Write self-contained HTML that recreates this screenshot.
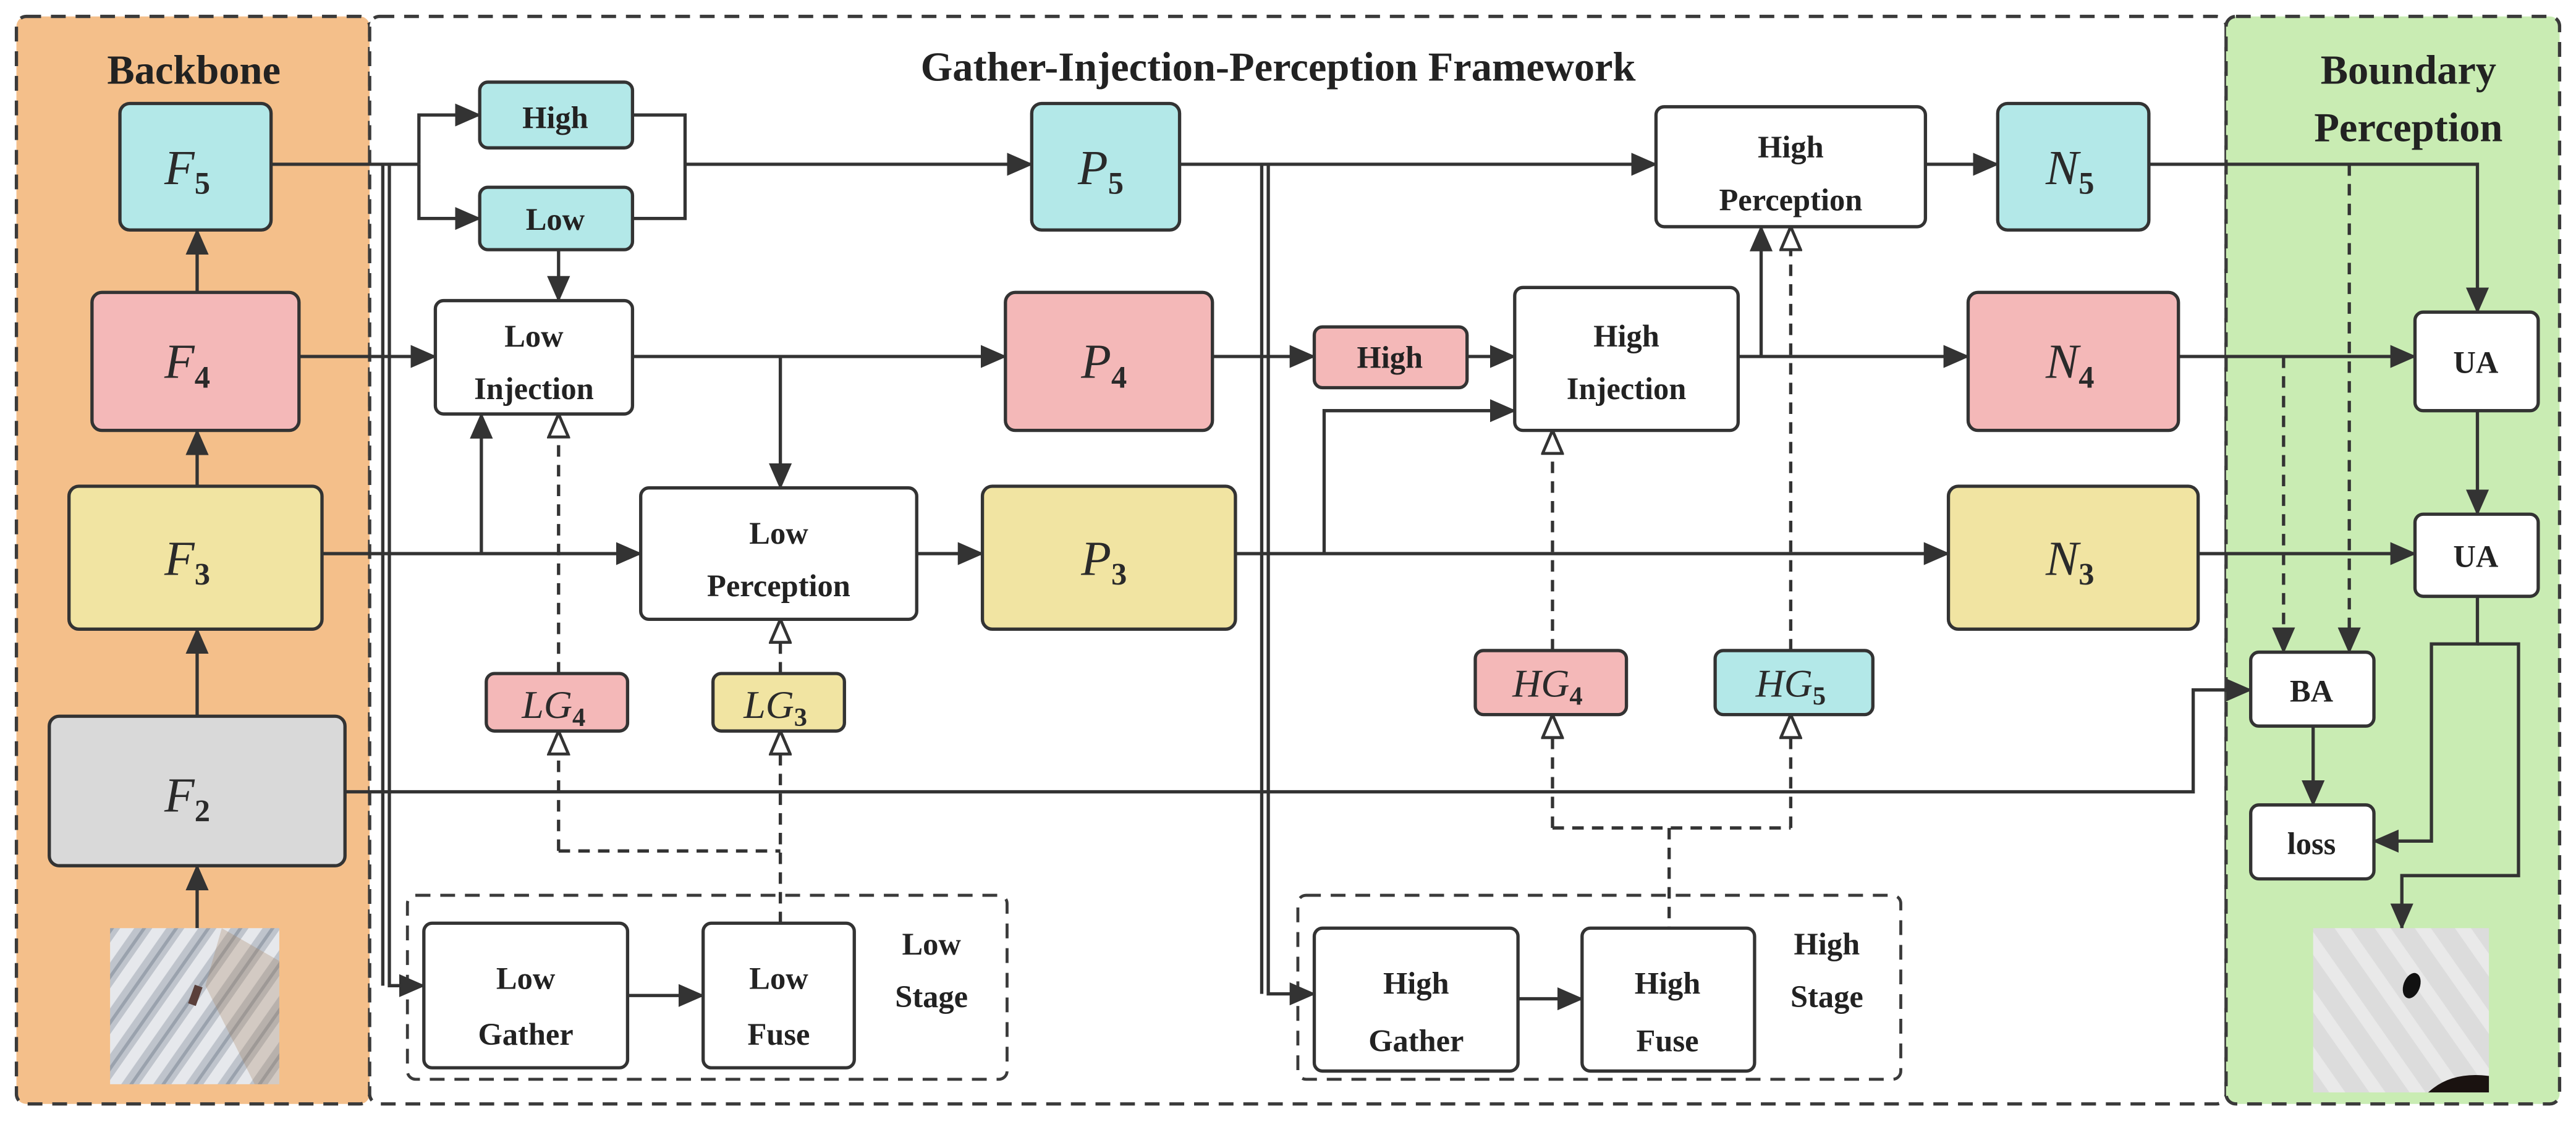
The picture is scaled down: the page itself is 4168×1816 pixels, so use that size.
<!DOCTYPE html>
<html><head><meta charset="utf-8"><style>
html,body{margin:0;padding:0;background:#fff}
svg{display:block}
.t{font-family:"Liberation Serif",serif;font-weight:bold;fill:#222;text-anchor:middle}
.m{font-family:"Liberation Serif",serif;font-style:italic;fill:#2a2a2a;text-anchor:middle}
.s{font-style:normal;font-weight:bold}
</style></head><body>
<svg width="4168" height="1816" viewBox="0 0 1568 683" preserveAspectRatio="none" xmlns="http://www.w3.org/2000/svg">
<defs>
<marker id="a" markerUnits="userSpaceOnUse" markerWidth="16" markerHeight="14" refX="15" refY="7" orient="auto"><path d="M0,0 L16,7 L0,14 Z" fill="#333"/></marker>
<marker id="h" markerUnits="userSpaceOnUse" markerWidth="16" markerHeight="14" refX="15" refY="7" orient="auto"><path d="M1,1 L15,7 L1,13 Z" fill="#fff" stroke="#333" stroke-width="1.8"/></marker>
<pattern id="st" width="16" height="16" patternUnits="userSpaceOnUse" patternTransform="rotate(35)"><rect width="16" height="16" fill="#bfc4cc"/><rect width="7" height="16" fill="#e6e8ec"/><rect x="11" width="2" height="16" fill="#9aa2ad"/></pattern>
<pattern id="st2" width="20" height="20" patternUnits="userSpaceOnUse" patternTransform="rotate(-35)"><rect width="20" height="20" fill="#dcdcdc"/><rect width="8" height="20" fill="#e9e9e9"/></pattern>
</defs>
<rect x="10" y="10" width="215" height="662" rx="6" fill="#f4bf8a" stroke="#3a3a3a" stroke-width="2" stroke-dasharray="9,6"/>
<rect x="225" y="10" width="1130" height="662" rx="6" fill="#fff" stroke="#3a3a3a" stroke-width="2" stroke-dasharray="9,6"/>
<rect x="1355" y="10" width="203" height="662" rx="6" fill="#c9ecb3" stroke="#3a3a3a" stroke-width="2" stroke-dasharray="9,6"/>
<text class="t" x="118" y="51" font-size="25">Backbone</text>
<text class="t" x="778" y="49" font-size="25">Gather-Injection-Perception Framework</text>
<text class="t" x="1466" y="51" font-size="25">Boundary</text>
<text class="t" x="1466" y="86" font-size="25">Perception</text>
<rect x="248" y="545" width="365" height="112" rx="5" fill="none" stroke="#3a3a3a" stroke-width="1.8" stroke-dasharray="9,6"/>
<rect x="790" y="545" width="367" height="112" rx="5" fill="none" stroke="#3a3a3a" stroke-width="1.8" stroke-dasharray="9,6"/>
<g fill="none" stroke="#333" stroke-width="2">
<path d="M120 565V527" marker-end="url(#a)"/><path d="M120 436V383" marker-end="url(#a)"/>
<path d="M120 296V262" marker-end="url(#a)"/><path d="M120 178V140" marker-end="url(#a)"/>
<path d="M165 100H255"/><path d="M255 100V70H292" marker-end="url(#a)"/><path d="M255 100V133H292" marker-end="url(#a)"/>
<path d="M385 70H417V133H385"/><path d="M417 100H628" marker-end="url(#a)"/>
<path d="M233 100V600M237 100V600H258" marker-end="url(#a)"/>
<path d="M340 152V183" marker-end="url(#a)"/>
<path d="M182 217H265" marker-end="url(#a)"/>
<path d="M385 217H612" marker-end="url(#a)"/>
<path d="M475 217V297" marker-end="url(#a)"/>
<path d="M196 337H390" marker-end="url(#a)"/>
<path d="M293 337V252" marker-end="url(#a)"/>
<path d="M558 337H598" marker-end="url(#a)"/>
<path d="M382 606H428" marker-end="url(#a)"/>
<path d="M718 100H1008" marker-end="url(#a)"/>
<path d="M768 100V605M772 100V605H800" marker-end="url(#a)"/>
<path d="M924 608H963" marker-end="url(#a)"/>
<path d="M738 217H800" marker-end="url(#a)"/>
<path d="M893 217H922" marker-end="url(#a)"/>
<path d="M752 337H1186" marker-end="url(#a)"/>
<path d="M806 337V250H922" marker-end="url(#a)"/>
<path d="M1058 217H1198" marker-end="url(#a)"/>
<path d="M1072 217V138" marker-end="url(#a)"/>
<path d="M1172 100H1216" marker-end="url(#a)"/>
<path d="M210 482H1335V420H1370" marker-end="url(#a)"/>
<path d="M1308 100H1508V190" marker-end="url(#a)"/>
<path d="M1326 217H1470" marker-end="url(#a)"/>
<path d="M1338 337H1470" marker-end="url(#a)"/>
<path d="M1508 250V313" marker-end="url(#a)"/>
<path d="M1508 363V392H1480V512H1445" marker-end="url(#a)"/>
<path d="M1508 392H1533V533H1462V565" marker-end="url(#a)"/>
<path d="M1408 442V490" marker-end="url(#a)"/>
</g>
<g fill="none" stroke="#333" stroke-width="2" stroke-dasharray="7,5">
<path d="M1390 217V397" marker-end="url(#a)"/>
<path d="M1430 100V397" marker-end="url(#a)"/>
<path d="M340 410V252" marker-end="url(#h)"/>
<path d="M475 410V377" marker-end="url(#h)"/>
<path d="M340 518V445" marker-end="url(#h)"/>
<path d="M475 562V445" marker-end="url(#h)"/>
<path d="M340 518H475"/>
<path d="M945 396V262" marker-end="url(#h)"/>
<path d="M1090 396V138" marker-end="url(#h)"/>
<path d="M945 504V435" marker-end="url(#h)"/>
<path d="M1090 504V435" marker-end="url(#h)"/>
<path d="M945 504H1090M1016 504V565"/>
</g>
<g stroke="#333" stroke-width="2">
<rect x="73" y="63" width="92" height="77" rx="6" fill="#b3e8e8"/>
<rect x="56" y="178" width="126" height="84" rx="6" fill="#f4b8b8"/>
<rect x="42" y="296" width="154" height="87" rx="6" fill="#f1e4a2"/>
<rect x="30" y="436" width="180" height="91" rx="6" fill="#d9d9d9"/>
<rect x="292" y="50" width="93" height="40" rx="5" fill="#b3e8e8"/>
<rect x="292" y="114" width="93" height="38" rx="5" fill="#b3e8e8"/>
<rect x="265" y="183" width="120" height="69" rx="5" fill="#fff"/>
<rect x="628" y="63" width="90" height="77" rx="6" fill="#b3e8e8"/>
<rect x="612" y="178" width="126" height="84" rx="6" fill="#f4b8b8"/>
<rect x="390" y="297" width="168" height="80" rx="5" fill="#fff"/>
<rect x="598" y="296" width="154" height="87" rx="6" fill="#f1e4a2"/>
<rect x="296" y="410" width="86" height="35" rx="5" fill="#f4b8b8"/>
<rect x="434" y="410" width="80" height="35" rx="5" fill="#f1e4a2"/>
<rect x="258" y="562" width="124" height="88" rx="5" fill="#fff"/>
<rect x="428" y="562" width="92" height="88" rx="5" fill="#fff"/>
<rect x="800" y="199" width="93" height="37" rx="5" fill="#f4b8b8"/>
<rect x="922" y="175" width="136" height="87" rx="5" fill="#fff"/>
<rect x="1008" y="65" width="164" height="73" rx="5" fill="#fff"/>
<rect x="1216" y="63" width="92" height="77" rx="6" fill="#b3e8e8"/>
<rect x="1198" y="178" width="128" height="84" rx="6" fill="#f4b8b8"/>
<rect x="1186" y="296" width="152" height="87" rx="6" fill="#f1e4a2"/>
<rect x="898" y="396" width="92" height="39" rx="5" fill="#f4b8b8"/>
<rect x="1044" y="396" width="96" height="39" rx="5" fill="#b3e8e8"/>
<rect x="800" y="565" width="124" height="87" rx="5" fill="#fff"/>
<rect x="963" y="565" width="105" height="87" rx="5" fill="#fff"/>
<rect x="1470" y="190" width="75" height="60" rx="5" fill="#fff"/>
<rect x="1470" y="313" width="75" height="50" rx="5" fill="#fff"/>
<rect x="1370" y="397" width="75" height="45" rx="5" fill="#fff"/>
<rect x="1370" y="490" width="75" height="45" rx="5" fill="#fff"/>
</g>
<rect x="67" y="565" width="103" height="95" fill="url(#st)"/>
<path d="M135 565 L170 585 L170 660 L155 660 L125 600Z" fill="#a88462" opacity="0.3"/>
<rect x="116" y="600" width="5" height="12" fill="#5a3f3a" transform="rotate(20 119 607)"/>
<rect x="1408" y="565" width="107" height="100" fill="url(#st2)"/>
<ellipse cx="1468" cy="600" rx="5" ry="8" fill="#111" transform="rotate(20 1468 600)"/>
<path d="M1478 665 Q1492 652 1515 655 L1515 665Z" fill="#1a1210"/>
<g class="m" font-size="30">
<text x="114" y="112">F<tspan class="s" font-size="19" dy="6">5</tspan></text>
<text x="114" y="230">F<tspan class="s" font-size="19" dy="6">4</tspan></text>
<text x="114" y="350">F<tspan class="s" font-size="19" dy="6">3</tspan></text>
<text x="114" y="494">F<tspan class="s" font-size="19" dy="6">2</tspan></text>
<text x="670" y="112">P<tspan class="s" font-size="19" dy="6">5</tspan></text>
<text x="672" y="230">P<tspan class="s" font-size="19" dy="6">4</tspan></text>
<text x="672" y="350">P<tspan class="s" font-size="19" dy="6">3</tspan></text>
<text x="1260" y="112">N<tspan class="s" font-size="19" dy="6">5</tspan></text>
<text x="1260" y="230">N<tspan class="s" font-size="19" dy="6">4</tspan></text>
<text x="1260" y="350">N<tspan class="s" font-size="19" dy="6">3</tspan></text>
</g>
<g class="m" font-size="24">
<text x="337" y="437">LG<tspan class="s" font-size="16" dy="5">4</tspan></text>
<text x="472" y="437">LG<tspan class="s" font-size="16" dy="5">3</tspan></text>
<text x="942" y="424">HG<tspan class="s" font-size="16" dy="5">4</tspan></text>
<text x="1090" y="424">HG<tspan class="s" font-size="16" dy="5">5</tspan></text>
</g>
<g class="t" font-size="19">
<text x="338" y="78">High</text>
<text x="338" y="140">Low</text>
<text x="325" y="211">Low</text><text x="325" y="243">Injection</text>
<text x="474" y="331">Low</text><text x="474" y="363">Perception</text>
<text x="320" y="602">Low</text><text x="320" y="636">Gather</text>
<text x="474" y="602">Low</text><text x="474" y="636">Fuse</text>
<text x="567" y="581">Low</text><text x="567" y="613">Stage</text>
<text x="846" y="224">High</text>
<text x="990" y="211">High</text><text x="990" y="243">Injection</text>
<text x="1090" y="96">High</text><text x="1090" y="128">Perception</text>
<text x="862" y="605">High</text><text x="862" y="640">Gather</text>
<text x="1015" y="605">High</text><text x="1015" y="640">Fuse</text>
<text x="1112" y="581">High</text><text x="1112" y="613">Stage</text>
<text x="1507" y="227">UA</text>
<text x="1507" y="345">UA</text>
<text x="1407" y="427">BA</text>
<text x="1407" y="520">loss</text>
</g>
</svg>
</body></html>
